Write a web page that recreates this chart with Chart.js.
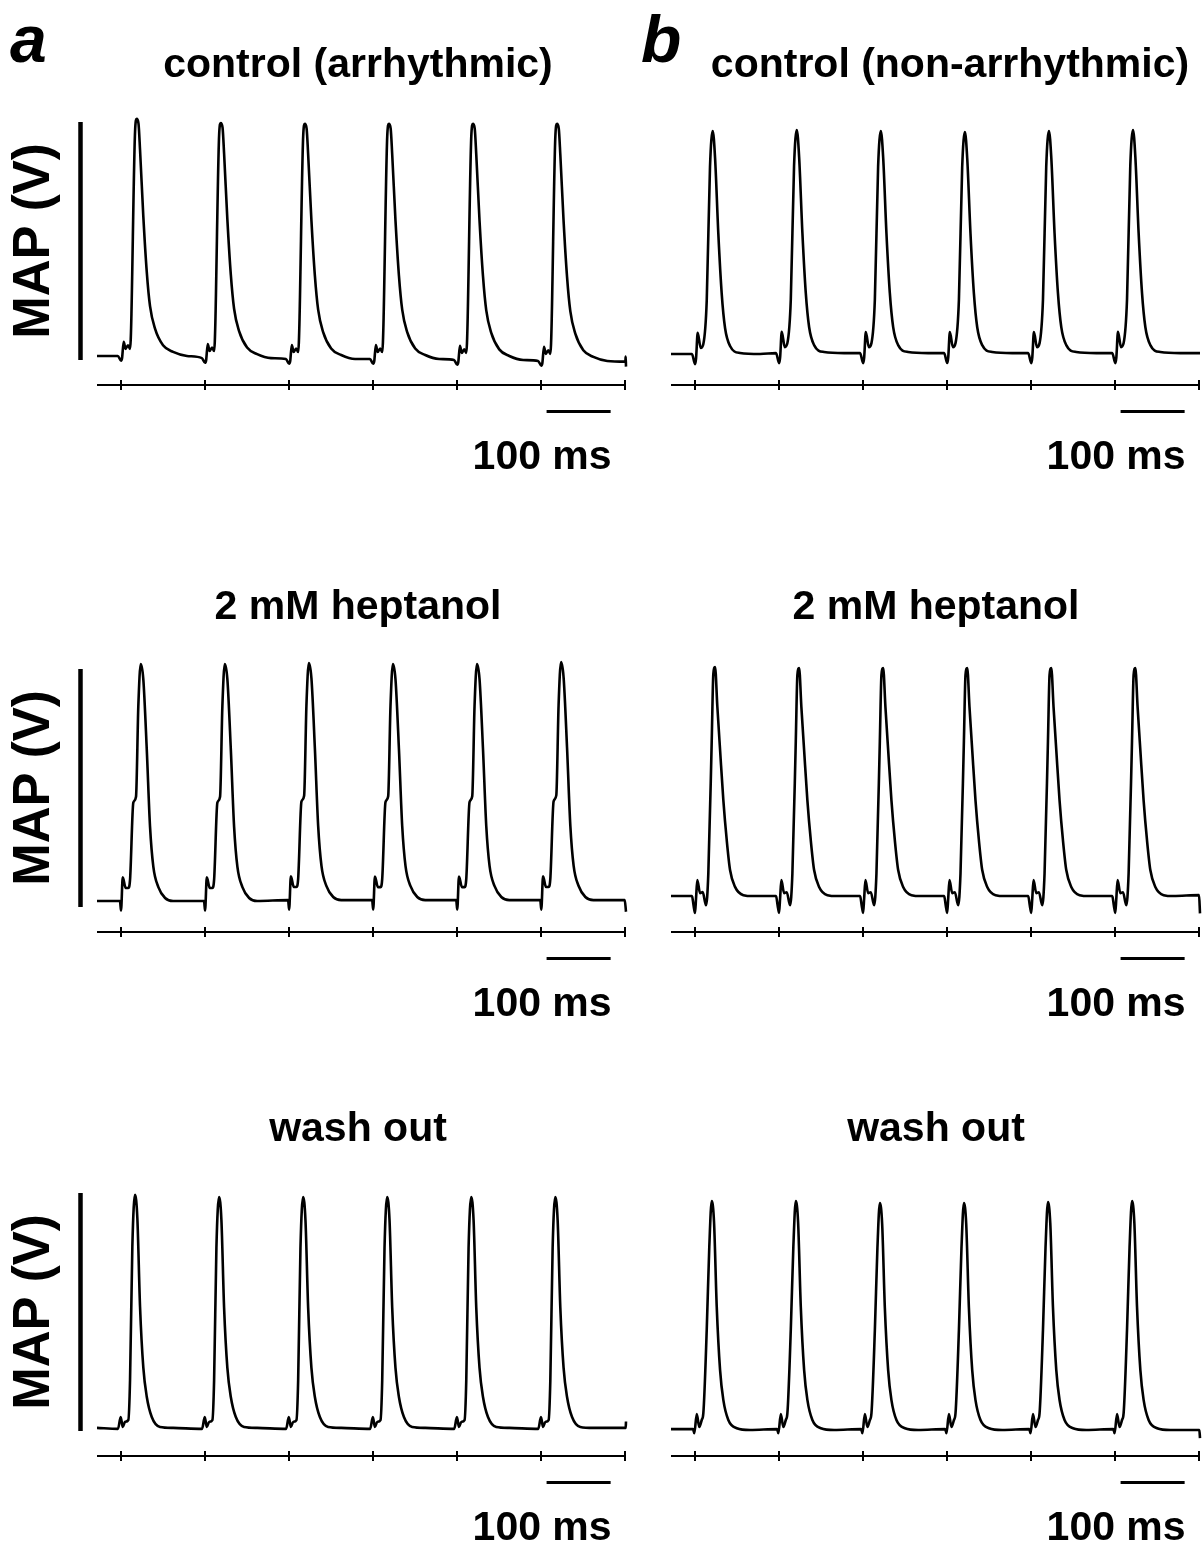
<!DOCTYPE html>
<html>
<head>
<meta charset="utf-8">
<script src="https://cdn.jsdelivr.net/npm/chart.js@4.4.1/dist/chart.umd.min.js"></script>
<style>
  html, body { margin: 0; padding: 0; background: #fff; }
  #fig { position: relative; width: 1202px; height: 1544px; overflow: hidden; }
  #fig canvas { position: absolute; }
</style>
</head>
<body>
<div id="fig"></div>
<script>
// stimulus marks on the time axis (ms) and the 100 ms scale bar
const stimTimes = [37.5, 168.75, 300, 431.25, 562.5, 693.75, 825];
const tEnd = 826;
const scaleBarMs = [702, 802];

const titles = ['control (arrhythmic)', 'control (non-arrhythmic)',
                '2 mM heptanol', '2 mM heptanol',
                'wash out', 'wash out'];
const letters = ['a', 'b'];

// one beat per panel: [ms after stimulus, fraction of the beat amplitude]
const beatA1 = [[-5, 0], [0, -0.02], [1.6, -0.01], [4.2, 0.06], [7, 0.03], [10.9, 0.045], [14.1, 0.03],
  [21.9, 0.945], [24.5, 1.0], [27.3, 0.98], [29.7, 0.87], [34.8, 0.59], [40.2, 0.355], [45.3, 0.21],
  [53.1, 0.115], [65.6, 0.045], [81.3, 0.017], [103, 0]];
const beatB1 = [[-4.7, 0], [0, -0.045], [1.6, -0.02], [4.2, 0.095], [8.9, 0.027], [13.0, 0.045],
  [18.3, 0.24], [23.4, 0.84], [27.7, 1.0], [31.3, 0.88], [36.4, 0.54], [41.7, 0.27], [46.9, 0.117],
  [54.7, 0.036], [70.3, 0.005], [101.6, 0]];
const beatA2 = [[-1.6, 0], [0, -0.04], [2.7, 0.10], [7.3, 0.055], [11.4, 0.055], [14.1, 0.09],
  [19.2, 0.415], [23.4, 0.44], [27.0, 0.82], [30.8, 1.0], [34.8, 0.936], [40.2, 0.64], [45.3, 0.314],
  [50.5, 0.144], [58.3, 0.059], [68.8, 0.013], [81.3, 0]];
const beatB2 = [[-4.7, 0], [-2.3, -0.04], [0, -0.074], [1.6, -0.01], [3.6, 0.07], [7.8, 0.013],
  [12.0, 0.017], [17.2, -0.04], [20.8, 0.10], [26.1, 0.68], [28.6, 0.97], [31.3, 1.0], [34.8, 0.83],
  [39.1, 0.64], [44.2, 0.42], [49.5, 0.245], [54.7, 0.114], [62.5, 0.04], [75.5, 0.004], [90.6, 0]];
const beatA3 = [[-4.7, -0.004], [-0.5, 0.047], [2.7, 0.004], [6.3, 0.026], [11.4, 0.034], [14.1, 0.207],
  [17.7, 0.78], [21.9, 1.0], [25.5, 0.9], [29.7, 0.52], [34.8, 0.26], [40.2, 0.134], [48.0, 0.047],
  [60.9, 0.004], [81.3, 0]];
const beatB3 = [[-3.1, 0], [-1.1, -0.018], [2.7, 0.066], [6.7, 0.009], [10.5, 0.04], [13.0, 0.07],
  [18.3, 0.436], [22.3, 0.80], [26.1, 1.0], [29.7, 0.907], [33.9, 0.537], [39.1, 0.26], [44.2, 0.128],
  [52.0, 0.04], [65.2, 0.004], [85.9, -0.004]];

// per-beat peak and resting levels (MAP bar = 1)
const peakA1 = [1.013, 0.996, 0.992, 0.992, 0.992, 0.992];
const baseA1 = [0.017, 0.008, 0.004, 0.004, 0.0, -0.004];
const peakB1 = [0.962, 0.966, 0.962, 0.958, 0.962, 0.966];
const baseB1 = [0.025, 0.029, 0.029, 0.029, 0.029, 0.029];
const peakA2 = [1.021, 1.021, 1.025, 1.021, 1.021, 1.029];
const baseA2 = [0.025, 0.025, 0.029, 0.029, 0.029, 0.029];
const peakB2 = [1.008, 1.004, 1.004, 1.004, 1.004, 1.004];
const baseB2 = [0.046, 0.046, 0.046, 0.046, 0.046, 0.046];
const peakA3 = [0.992, 0.983, 0.983, 0.983, 0.983, 0.983];
const baseA3 = [0.013, 0.013, 0.013, 0.013, 0.013, 0.013];
const peakB3 = [0.966, 0.966, 0.958, 0.958, 0.962, 0.966];
const baseB3 = [0.008, 0.008, 0.008, 0.008, 0.008, 0.008];

// end of each trace after the last mark: [ms, level]
const tailA1 = [[825, -0.007], [825.5, 0.014], [826, -0.028]];
const tailB1 = [[826, 0.029]];
const tailA2 = [[824, 0.029], [826, -0.02]];
const tailB2 = [[824.5, 0.05], [826, -0.027]];
const tailA3 = [[825.5, 0.013], [826, 0.04]];
const tailB3 = [[825, 0.004], [826, -0.03]];

const FONT = '"Liberation Sans", Arial, Helvetica, sans-serif';
const UNIT = 238;          // px per MAP bar
const Y_MIN = -0.1, Y_MAX = 1.06;

const cols = [
  { left: 0, width: 630, x0: 97, x1: 626, titleX: [358, 358, 358], bar: true },
  { left: 630, width: 572, x0: 671, x1: 1200, titleX: [950, 936, 936], bar: false }
];
const rows = [
  { top: 0, height: 520, zero: 360, titleY: 77 },
  { top: 520, height: 545, zero: 907, titleY: 619 },
  { top: 1065, height: 479, zero: 1431, titleY: 1141 }
];
const panels = [
  [beatA1, peakA1, baseA1, tailA1], [beatB1, peakB1, baseB1, tailB1],
  [beatA2, peakA2, baseA2, tailA2], [beatB2, peakB2, baseB2, tailB2],
  [beatA3, peakA3, baseA3, tailA3], [beatB3, peakB3, baseB3, tailB3]
];

function buildTrace(beat, peaks, bases, tail) {
  const pts = [{ x: 0, y: bases[0] }];
  for (let k = 0; k < peaks.length; k++) {
    beat.forEach(([dt, f]) => {
      pts.push({ x: stimTimes[k] + dt, y: bases[k] + f * (peaks[k] - bases[k]) });
    });
  }
  tail.forEach(([t, v]) => pts.push({ x: t, y: v }));
  return pts;
}

const decor = {
  id: 'decor',
  afterDraw(chart, args, o) {
    const ctx = chart.ctx, xs = chart.scales.x, ys = chart.scales.y;
    const zeroY = ys.getPixelForValue(0);
    const axisY = zeroY + 25;
    ctx.save();
    ctx.strokeStyle = '#000';
    ctx.fillStyle = '#000';
    ctx.lineCap = 'butt';

    // time axis with stimulus marks
    ctx.lineWidth = 2;
    ctx.beginPath();
    ctx.moveTo(xs.getPixelForValue(0), axisY);
    ctx.lineTo(xs.getPixelForValue(tEnd), axisY);
    stimTimes.forEach(t => {
      const px = Math.round(xs.getPixelForValue(t));
      ctx.moveTo(px, axisY - 5);
      ctx.lineTo(px, axisY + 5);
    });
    ctx.stroke();

    // 100 ms scale bar
    const b0 = xs.getPixelForValue(scaleBarMs[0]), b1 = xs.getPixelForValue(scaleBarMs[1]);
    ctx.lineWidth = 3;
    ctx.beginPath();
    ctx.moveTo(b0, axisY + 26.5);
    ctx.lineTo(b1, axisY + 26.5);
    ctx.stroke();
    ctx.font = 'bold 41px ' + FONT;
    ctx.textAlign = 'right';
    ctx.textBaseline = 'alphabetic';
    ctx.fillText('100 ms', b1 + 1, axisY + 84);

    // MAP scale bar and label
    if (o.bar) {
      const bx = chart.chartArea.left - 16.5;
      ctx.lineWidth = 4.5;
      ctx.beginPath();
      ctx.moveTo(bx, ys.getPixelForValue(1));
      ctx.lineTo(bx, zeroY);
      ctx.stroke();
      ctx.save();
      ctx.translate(chart.chartArea.left - 64, ys.getPixelForValue(0.5));
      ctx.rotate(-Math.PI / 2);
      ctx.font = 'bold 51px ' + FONT;
      ctx.textAlign = 'center';
      ctx.textBaseline = 'middle';
      ctx.fillText('MAP (V)', 0, 2);
      ctx.restore();
    }

    // panel title
    ctx.font = 'bold 41px ' + FONT;
    ctx.textAlign = 'center';
    ctx.textBaseline = 'alphabetic';
    ctx.fillText(o.title, o.titleX, o.titleY);

    if (o.letter) {
      ctx.font = 'italic bold 66px ' + FONT;
      ctx.textAlign = 'left';
      ctx.fillText(o.letter, o.letterX, o.letterY);
    }
    ctx.restore();
  }
};

const fig = document.getElementById('fig');
rows.forEach((row, r) => {
  cols.forEach((col, c) => {
    const idx = r * 2 + c;
    const [beat, peaks, bases, tail] = panels[idx];
    const canvas = document.createElement('canvas');
    canvas.width = col.width;
    canvas.height = row.height;
    canvas.style.left = col.left + 'px';
    canvas.style.top = row.top + 'px';
    fig.appendChild(canvas);

    const areaTop = row.zero - Y_MAX * UNIT;
    const areaBottom = row.zero - Y_MIN * UNIT;

    new Chart(canvas, {
      type: 'line',
      data: {
        datasets: [{
          data: buildTrace(beat, peaks, bases, tail),
          borderColor: '#000',
          borderWidth: 2.6,
          borderJoinStyle: 'round',
          pointRadius: 0,
          cubicInterpolationMode: 'monotone',
          clip: false
        }]
      },
      options: {
        responsive: false,
        animation: false,
        events: [],
        layout: {
          padding: {
            left: col.x0 - col.left,
            right: col.left + col.width - col.x1,
            top: areaTop - row.top,
            bottom: row.top + row.height - areaBottom
          }
        },
        scales: {
          x: { type: 'linear', display: false, min: 0, max: tEnd },
          y: { type: 'linear', display: false, min: Y_MIN, max: Y_MAX }
        },
        plugins: {
          legend: { display: false },
          tooltip: { enabled: false },
          decor: {
            bar: col.bar,
            title: titles[idx],
            titleX: col.titleX[r] - col.left,
            titleY: row.titleY - row.top,
            letter: r === 0 ? letters[c] : null,
            letterX: c === 0 ? 10 : 641 - col.left,
            letterY: 62
          }
        }
      },
      plugins: [decor]
    });
  });
});
</script>
</body>
</html>
